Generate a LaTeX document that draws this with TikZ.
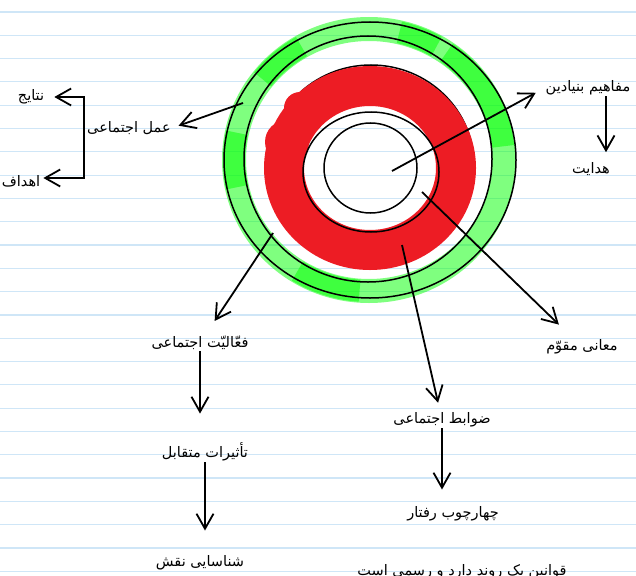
\documentclass[tikz,border=0pt]{standalone}
\usepackage{fontspec}
\usetikzlibrary{arrows.meta,calc}
\newfontfamily\arabicfont[Script=Arabic]{DejaVu Sans}
\TeXXeTstate=1
\definecolor{RuleBlue}{HTML}{CFE6F7}
\definecolor{PaintRed}{HTML}{ED1C24}
\definecolor{PaintGreen}{HTML}{00FF00}
\newcommand{\fa}[1]{\beginR #1\endR}

\begin{document}
\begin{tikzpicture}[x=1pt,y=-1pt,
    fatext/.style={font=\arabicfont\fontsize{14.5}{17}\selectfont, inner sep=1pt},
    arr/.style={-{Straight Barb[length=15pt,width=17pt]}, line width=1.8pt},
    ring/.style={line width=1.5pt}]
  \useasboundingbox (0,0) rectangle (636,575);
  \clip (0,0) rectangle (636,575);
  \fill[white] (0,0) rectangle (636,575);
  % notebook lines
  \foreach \k in {0,...,24}
    \draw[RuleBlue, line width=1.2pt] (0,12+23.3*\k) -- (636,12+23.3*\k);

  % green band, painted in strokes
  \coordinate (gc) at (369,160);
  \draw[PaintGreen, opacity=.5, line width=24pt] (gc) ellipse [x radius=135, y radius=131];
  \foreach \a/\b in {-77/-60, 168/192, 218/240, 94/122, 305/354}
    \draw[PaintGreen, opacity=.5, line width=22pt]
      ([shift={(\a:135 and 131)}]gc) arc [start angle=\a, end angle=\b, x radius=135, y radius=131];

  % rings
  \draw[ring] (370,160) ellipse [x radius=146, y radius=138];
  \draw[ring] (368,159) ellipse [x radius=124, y radius=123];
  \draw[ring] (371,165) ellipse [x radius=103, y radius=100];
  \draw[PaintRed, line width=40pt] (370,168) ellipse [x radius=86, y radius=82];
  \fill[PaintRed] (287,142) circle [radius=22];
  \fill[PaintRed] (300,108) circle [radius=16];
  \draw[ring] (371,172) ellipse [x radius=68, y radius=60];
  \draw[ring] (370.5,168) ellipse [x radius=46.5, y radius=45];

  \coordinate (hub) at (392,171);
  \coordinate (inner) at (422,192);
  \coordinate (redband) at (402,245);
  \coordinate (greenL) at (273,233);
  \coordinate (greenT) at (243,103);
  \coordinate (brtop) at (84,97);
  \coordinate (brbot) at (84,178);

  % labels
  \node[fatext] (mafahim) at (588,88) {\fa{مفاهیم بنیادین}};
  \node[fatext] (hedayat) at (591,169) {\fa{هدایت}};
  \node[fatext] (amal) at (129,128) {\fa{عمل اجتماعی}};
  \node[fatext] (natayej) at (31,97) {\fa{نتایج}};
  \node[fatext] (ahdaf) at (21,181) {\fa{اهداف}};
  \node[fatext] (faaliyat) at (200,343) {\fa{فعّالیّت اجتماعی}};
  \node[fatext] (tasirat) at (205,452) {\fa{تأثیرات متقابل}};
  \node[fatext] (shenasayi) at (200,563) {\fa{شناسایی نقش}};
  \node[fatext] (maani) at (582,347) {\fa{معانی مقوّم}};
  \node[fatext] (zavabet) at (442,420) {\fa{ضوابط اجتماعی}};
  \node[fatext] (chaharchub) at (453,514) {\fa{چهارچوب رفتار}};
  \node[fatext, anchor=base] (qavanin) at (462,575) {\fa{قوانین یک روند دارد و رسمی است}};

  % arrows
  \draw[arr, shorten >=10pt] (hub) -- (mafahim.west);
  \draw[arr, shorten >=9pt] ([xshift=18pt]mafahim.south) -- ([xshift=15pt]hedayat.north);
  \draw[arr, shorten >=20pt] (inner) -- (maani);
  \draw[arr, shorten >=9pt] (redband) -- (zavabet);
  \draw[arr, shorten >=16pt] (zavabet.south) -- (zavabet.south |- chaharchub.north);
  \draw[arr, shorten >=17pt] (greenL) -- (faaliyat);
  \draw[arr, shorten >=28pt] (faaliyat.south) -- (faaliyat.south |- tasirat.north);
  \draw[arr, shorten >=24pt] (tasirat.south) -- (tasirat.south |- shenasayi.north);
  \draw[arr, shorten >=7pt] (greenT) -- (amal.east);
  \draw[arr, {Straight Barb[length=15pt,width=17pt]}-{Straight Barb[length=15pt,width=17pt]},
        shorten <=9pt, shorten >=2pt]
    (brtop -| natayej.east) -- (brtop) -- (brbot) -- (brbot -| ahdaf.east);
\end{tikzpicture}
\end{document}
